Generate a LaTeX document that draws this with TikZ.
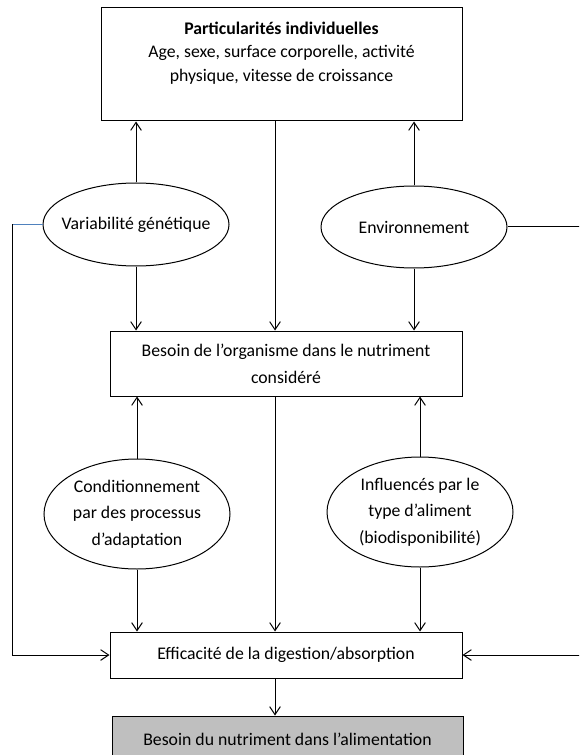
\documentclass[tikz,border=0pt]{standalone}
\usepackage{fontspec}
\setmainfont{Carlito}
\usepackage{tikz}
\usetikzlibrary{shapes.geometric,arrows.meta,positioning}
\definecolor{grisfond}{RGB}{191,191,191}
\definecolor{bleutrait}{RGB}{79,129,189}
\tikzstyle{boite}=[draw, rectangle, line width=0.75pt, inner sep=0pt, align=center, font=\fontsize{13.3}{20.2}\selectfont]
\tikzstyle{bulle}=[draw, ellipse, line width=0.75pt, inner sep=0pt, align=center, font=\fontsize{13.3}{20}\selectfont]
\tikzstyle{fleche}=[-{Straight Barb[length=6pt,width=8pt]}, line width=0.75pt]

\begin{document}
\begin{tikzpicture}[x=0.75pt,y=-0.75pt]
\useasboundingbox (0,0) rectangle (579,755);
\clip (0,0) rectangle (579,755);

% boites
\node[boite, minimum width=270.75pt, minimum height=84.75pt] (perso) at (281.5,64.5)
  {\parbox[c][84.75pt][t]{265pt}{\vspace*{10.4pt}\centering\fontsize{13.3}{17.6}\selectfont
   \textbf{Particularités individuelles}\\Age, sexe, surface corporelle, activité\\physique, vitesse de croissance}};
\node[boite, minimum width=264pt, minimum height=48.75pt] (besorg) at (286,363.5)
  {Besoin de l’organisme dans le nutriment\\considéré};
\node[boite, minimum width=264pt, minimum height=34.5pt] (effic) at (286,655)
  {Efficacité de la digestion/absorption};
\node[boite, fill=grisfond, minimum width=263.25pt, minimum height=34.5pt] (besnut) at (287.5,739)
  {Besoin du nutriment dans l’alimentation};

% ellipses
\node[bulle, inner xsep=-6.5pt, minimum width=139.5pt, minimum height=62.25pt] (varg) at (136,224.5) {Variabilité génétique};
\node[bulle, minimum width=139.5pt, minimum height=61.5pt] (envi) at (414,227) {Environnement};
\node[bulle, minimum width=139.5pt, minimum height=82.5pt] (cond) at (137,514)
  {Conditionnement\\par des processus\\d’adaptation};
\node[bulle, minimum width=139.5pt, minimum height=82.5pt] (infl) at (420,512)
  {Influencés par le\\type d’aliment\\(biodisponibilité)};

\coordinate (axe) at (275,0);
\coordinate (coudeG) at (12,0);
\coordinate (coudeD) at (610,0);

% vers les particularites
\draw[fleche] (varg.north) -- (varg.north |- perso.south);
\draw[fleche] (envi.north) -- (envi.north |- perso.south);

% vers le besoin de l'organisme
\draw[fleche] (axe |- perso.south) -- (axe |- besorg.north);
\draw[fleche] (varg.south) -- (varg.south |- besorg.north);
\draw[fleche] (envi.south) -- (envi.south |- besorg.north);
\draw[fleche] (cond.north) -- (cond.north |- besorg.south);
\draw[fleche] (infl.north) -- (infl.north |- besorg.south);

% vers l'efficacite
\draw[fleche] (axe |- besorg.south) -- (axe |- effic.north);
\draw[fleche] (cond.south) -- (cond.south |- effic.north);
\draw[fleche] (infl.south) -- (infl.south |- effic.north);
\draw[bleutrait, line width=0.5pt] (varg.west) -- (varg.west -| coudeG);
\draw[fleche] (varg.west -| coudeG) |- (effic.west);
\draw[line width=0.75pt] (envi.east) -- (envi.east -| coudeD);
\draw[fleche] (envi.east -| coudeD) |- (effic.east);

% besoin final
\draw[fleche] (axe |- effic.south) -- (axe |- besnut.north);

\end{tikzpicture}
\end{document}
